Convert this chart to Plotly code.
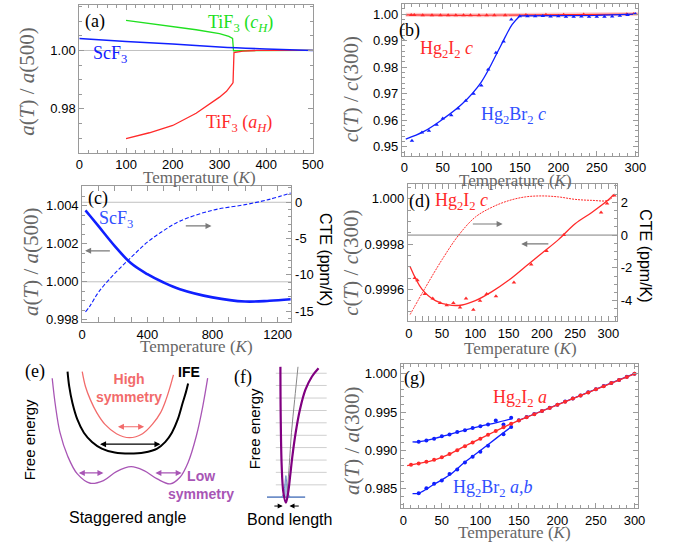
import plotly.graph_objects as go

W, H = 674, 548
def X(px): return px / W
def Y(py): return 1 - py / H

# ---------------- data ----------------
# (a) lattice parameters normalised at 500 K
a_scf3_T = [0, 100, 200, 300, 400, 500]
a_scf3 = [1.0041, 1.0031, 1.0022, 1.0012, 1.0005, 1.0000]
a_tif3_c_T = [100, 150, 200, 250, 300, 320, 328, 330, 340, 400, 500]
a_tif3_c = [1.0103, 1.0093, 1.0082, 1.0071, 1.0058, 1.0048, 1.0041, 0.9999, 0.9999, 1.0000, 1.0000]
a_tif3_a_T = [100, 150, 200, 250, 300, 315, 328, 329, 331, 350, 380, 500]
a_tif3_a = [0.9698, 0.9718, 0.9743, 0.9785, 0.9840, 0.9860, 0.9887, 0.9890, 0.9993, 0.9998, 1.0, 1.0]

# Hg2I2 c (used in b and d)
i_c_T = [9, 13, 24, 36, 47, 57, 67, 77, 86, 97, 107, 117, 131, 158, 184, 207, 233, 289, 298, 309]
i_c = [0.99965, 0.99964, 0.99958, 0.99956, 0.99954, 0.99953, 0.99954, 0.99952, 0.99956, 0.99951,
       0.99955, 0.99958, 0.99957, 0.99963, 0.99971, 0.99977, 0.99984, 0.99994, 0.99998, 1.000015]
i_c_fit_T = [2, 20, 40, 60, 80, 100, 125, 150, 175, 200, 225, 250, 275, 300, 308]
i_c_fit = [0.99970, 0.99960, 0.99955, 0.999531, 0.999531, 0.99955, 0.99959, 0.99964, 0.99970,
           0.99976, 0.99982, 0.99989, 0.99994, 0.999996, 1.00002]
i_cte_T = [2, 25, 50, 75, 100, 125, 150, 175, 200, 225, 250, 275, 300, 308]
i_cte = [-4.85, -3.2, -1.5, 0.0, 1.1, 1.7, 2.1, 2.33, 2.39, 2.33, 2.18, 2.12, 2.12, 2.4]

# Hg2Br2 c (b)
br_c_T = [10, 23, 32, 42, 50, 61, 70, 80, 90, 100, 109, 119, 129, 139, 150, 160, 170, 180, 190, 200,
          210, 220, 230, 240, 250, 260, 270, 280, 290, 300]
br_c = [0.9523, 0.9554, 0.9560, 0.9583, 0.9607, 0.9619, 0.9644, 0.9673, 0.9700, 0.9731, 0.9791,
        0.9854, 0.9897, 0.9979, 0.9992, 0.9992, 0.9992, 0.9993, 0.9991, 0.9992, 0.9990, 0.9990,
        0.9991, 0.9990, 0.9990, 0.9990, 0.9991, 0.9994, 0.9996, 1.0]
br_c_fit_lo_T = [2, 25, 50, 75, 100, 125, 140, 150]
br_c_fit_lo = [0.9529, 0.9557, 0.9604, 0.9661, 0.9744, 0.9879, 0.9960, 0.9993]
br_c_fit_hi_T = [150, 200, 250, 280, 300]
br_c_fit_hi = [0.9993, 0.9993, 0.9995, 0.9998, 1.0]

# (c) ScF3 a(T)/a(500) and CTE
c_T = [20, 50, 100, 200, 300, 400, 500, 600, 800, 1000, 1150, 1280]
c_a = [1.00376, 1.00345, 1.00293, 1.00188, 1.00097, 1.00040, 0.99996, 0.99961, 0.99918, 0.99896, 0.99900, 0.99908]
c_cte = [-15.1, -14.2, -12.4, -9.8, -7.6, -5.5, -3.9, -2.6, -1.1, -0.33, 0.4, 1.27]

# (g) a(T)/a(300)
g_T = [10, 20, 30, 40, 50, 60, 70, 80, 90, 100, 110, 120, 130, 140, 150, 160, 170, 180, 190, 200,
       210, 220, 230, 240, 250, 260, 270, 280, 290, 300]
g_i_a = [0.98815, 0.98832, 0.98852, 0.98878, 0.98912, 0.98953, 0.99003, 0.99055, 0.99105, 0.99155,
         0.99205, 0.99254, 0.99303, 0.99350, 0.99393, 0.99434, 0.99474, 0.99515, 0.99555, 0.99596,
         0.99636, 0.99677, 0.99717, 0.99757, 0.99798, 0.99838, 0.99879, 0.99919, 0.99960, 1.00000]
g_i_fit_T = [5, 20, 40, 60, 80, 100, 120, 140, 160, 200, 250, 300]
g_i_fit = [0.98802, 0.98832, 0.98876, 0.98953, 0.99058, 0.99155, 0.99254, 0.99350, 0.99434, 0.99596, 0.99798, 1.0]
g_br_up_T = [20, 30, 40, 50, 60, 70, 80, 90, 100, 110, 120, 130, 140]
g_br_up = [0.99113, 0.99130, 0.99155, 0.99185, 0.99210, 0.99240, 0.99265, 0.99295, 0.99318, 0.99338, 0.99393, 0.99340, 0.99426]
g_br_up_fit_T = [12, 20, 40, 60, 80, 100, 120, 140]
g_br_up_fit = [0.99113, 0.99113, 0.99155, 0.99212, 0.99267, 0.99319, 0.99362, 0.99413]
g_br_lo_T = [20, 30, 40, 50, 60, 70, 80, 90, 100, 110, 130, 140]
g_br_lo = [0.98444, 0.98509, 0.98566, 0.98608, 0.98695, 0.98751, 0.98845, 0.98919, 0.98983, 0.99061, 0.99212, 0.99306]
g_br_lo_fit_T = [12, 20, 40, 60, 80, 100, 120, 140]
g_br_lo_fit = [0.98437, 0.98444, 0.98560, 0.98680, 0.98850, 0.99000, 0.99155, 0.99306]
g_br_hi_T = [150, 160, 170, 180, 190, 200, 210, 220, 230, 240, 250, 260, 270, 280, 290, 300]
g_br_hi = [0.99395, 0.99436, 0.99476, 0.99517, 0.99557, 0.99598, 0.99638, 0.99679, 0.99719, 0.99759,
           0.99800, 0.99840, 0.99881, 0.99921, 0.99962, 1.00002]

# (e) schematic free-energy curves (angle, energy in arbitrary units)
e_ife_x = [65, 66.7, 70, 75, 81.7, 90, 100, 113.3, 128.3, 143.3, 156.7, 165, 171.7, 177.7, 182.7, 186, 188.3]
e_ife_y = [173, 158, 141.3, 124.7, 111.3, 102, 95.3, 91.3, 90.3, 91.3, 95.3, 102, 111.3, 124.7, 141.3, 152, 161]
e_high_x = [80, 83.3, 88.3, 95, 103.3, 115, 128.3, 141.7, 151.7, 160, 165.7, 170, 173.3]
e_high_y = [173, 158, 144.7, 131.3, 119.7, 110.3, 106.3, 110.3, 119.7, 131.3, 144.7, 158, 169.7]
e_low_x = [49.3, 52.7, 57.3, 65, 75, 88.3, 101.7, 115, 130, 143.3, 156.7, 170, 180, 188.3, 196.7, 203.3, 208.3]
e_low_y = [166.3, 138, 111.3, 88, 69.7, 60.3, 63, 72, 77, 73, 64.7, 59.7, 66.3, 81.3, 108, 138, 166.3]

# (f) schematic bond potential
f_levels = [171.3, 159, 146.3, 133.7, 121.3, 108.7, 96.3, 83.7, 71.3, 58.7]
f_morse_x = [282.7, 283, 284, 285.7, 288.3, 290.7, 292.7, 295, 298.3, 302.7, 308.3, 315, 321.7]
f_morse_y = [178, 128, 78, 51.3, 40.7, 51.3, 68, 88, 111.3, 134.7, 154.7, 168, 176.3]
f_harm_x = [289.7, 291.7, 294, 297.3, 300.7]
f_harm_y = [51.3, 78, 111.3, 144.7, 178]
f_gauss_x = [284, 286, 287.3, 288.3, 289.3, 290.7, 292.5]
f_gauss_y = [46.3, 50, 60, 68, 60, 50, 46.3]

# ---------------- colours / fonts ----------------
BLUE = "#1020ff"
RED = "#ff2a2a"
GREEN = "#20e020"
GRAY = "#9a9a9a"
SERIF = "Liberation Serif, Times New Roman, serif"
SANS = "Liberation Sans, Arial, sans-serif"

fig = go.Figure()

def tr(x, y, xa, ya, color, width=1.5, dash=None, mode="lines", marker=None, shape="linear", **kw):
    d = dict(x=x, y=y, xaxis=xa, yaxis=ya, mode=mode, showlegend=False, hoverinfo="skip")
    if "lines" in mode:
        d["line"] = dict(color=color, width=width, dash=dash, shape=shape)
    if marker:
        d["marker"] = marker
    d.update(kw)
    fig.add_trace(go.Scatter(**d))

tri = lambda c: dict(symbol="triangle-up", size=4, color=c)
dot = lambda c: dict(symbol="circle", size=4, color=c)

# (a)
tr(a_tif3_c_T, a_tif3_c, "x", "y", GREEN, 1.3)
tr(a_tif3_a_T, a_tif3_a, "x", "y", RED, 1.3)
tr(a_scf3_T, a_scf3, "x", "y", BLUE, 1.6, shape="spline")

# (b)
tr(i_c_fit_T, i_c_fit, "x2", "y2", "rgba(255,120,120,0.4)", 4)
tr(i_c_fit_T, i_c_fit, "x2", "y2", RED, 1.2)
tr(i_c_T, i_c, "x2", "y2", RED, mode="markers", marker=tri(RED))
tr(br_c_fit_lo_T, br_c_fit_lo, "x2", "y2", BLUE, 1.3, shape="spline")
tr(br_c_fit_hi_T, br_c_fit_hi, "x2", "y2", BLUE, 1.3)
tr(br_c_T, br_c, "x2", "y2", BLUE, mode="markers", marker=tri(BLUE))

# (c)
tr(c_T, c_a, "x3", "y3", BLUE, 2.6, shape="spline")
tr(c_T, c_cte, "x3", "y4", BLUE, 1.1, dash="4px,2px", shape="spline")

# (d)
tr(i_c_fit_T, i_c_fit, "x5", "y5", RED, 1.3, shape="spline")
tr(i_c_T, i_c, "x5", "y5", RED, mode="markers", marker=tri(RED))
tr(i_cte_T, i_cte, "x5", "y6", RED, 1.0, dash="2px,1px", shape="spline")

# (e)/(f) schematic
tr(e_high_x, e_high_y, "x7", "y7", "#f26b6b", 1.3, shape="spline")
tr(e_ife_x, e_ife_y, "x7", "y7", "black", 2.0, shape="spline")
tr(e_low_x, e_low_y, "x7", "y7", "#a855b5", 1.3, shape="spline")
lx, ly = [], []
for lv in f_levels:
    lx += [278, 330, None]
    ly += [lv, lv, None]
tr(lx, ly, "x7", "y7", "#cfcfcf", 1)
tr([269, 308], [46.3, 46.3], "x7", "y7", "#6f8fc8", 1.6)
tr(f_gauss_x, f_gauss_y, "x7", "y7", "#6f8fc8", 1.0, fill="toself", fillcolor="rgba(111,143,200,0.6)", shape="spline")
tr(f_harm_x, f_harm_y, "x7", "y7", "#888888", 1.0, shape="spline")
tr(f_morse_x, f_morse_y, "x7", "y7", "#800080", 2.2, shape="spline")

# (g)
tr(g_br_hi_T, g_br_hi, "x9", "y9", BLUE, 1.3)
tr(g_br_hi_T, g_br_hi, "x9", "y9", BLUE, mode="markers", marker=dot(BLUE))
tr(g_br_up_fit_T, g_br_up_fit, "x9", "y9", BLUE, 1.3, shape="spline")
tr(g_br_up_T, g_br_up, "x9", "y9", BLUE, mode="markers", marker=dot(BLUE))
tr(g_br_lo_fit_T, g_br_lo_fit, "x9", "y9", BLUE, 1.3, shape="spline")
tr(g_br_lo_T, g_br_lo, "x9", "y9", BLUE, mode="markers", marker=dot(BLUE))
tr(g_i_fit_T, g_i_fit, "x9", "y9", RED, 1.3, shape="spline")
tr(g_T, g_i_a, "x9", "y9", RED, mode="markers", marker=dot(RED))

# ---------------- axes ----------------
def ax(domain, rng, tickvals=None, ticktext=None, minor=None, mirror="allticks", anchor=None, **kw):
    d = dict(domain=domain, range=rng, showline=True, linecolor=GRAY, linewidth=1, mirror=mirror,
             ticks="inside", ticklen=5, tickcolor=GRAY, showgrid=False, zeroline=False,
             tickfont=dict(family=SANS, size=13, color="black"), fixedrange=True)
    if tickvals is not None:
        d["tickvals"] = tickvals
    if ticktext is not None:
        d["ticktext"] = ticktext
    if minor is not None:
        d["minor"] = dict(dtick=minor, ticks="inside", ticklen=3, tickcolor=GRAY, showgrid=False)
    if anchor:
        d["anchor"] = anchor
    d.update(kw)
    return d

hidden = dict(visible=False, fixedrange=True)

fig.update_layout(
    width=W, height=H, margin=dict(l=0, r=0, t=0, b=0),
    paper_bgcolor="white", plot_bgcolor="white", showlegend=False,
    # (a)
    xaxis=ax([X(77), X(316)], [0, 500], [0, 100, 200, 300, 400, 500], minor=20, anchor="y"),
    yaxis=ax([Y(154), Y(5)], [0.965, 1.0156], [0.98, 1.00], ["0.98", "1.00"], minor=0.005, anchor="x"),
    # (b)
    xaxis2=ax([X(407), X(648)], [-3, 303], [0, 50, 100, 150, 200, 250, 300], minor=10, anchor="y2"),
    yaxis2=ax([Y(157), Y(4)], [0.9467, 1.0038], [0.95, 0.96, 0.97, 0.98, 0.99, 1.00],
              ["0.95", "0.96", "0.97", "0.98", "0.99", "1.00"], minor=0.002, anchor="x2"),
    # (c)
    xaxis3=ax([X(80), X(294)], [0, 1285], [0, 400, 800, 1200], minor=100, anchor="y3"),
    yaxis3=ax([Y(325), Y(188)], [0.99788, 1.00503], [0.998, 1.000, 1.002, 1.004],
              ["0.998", "1.000", "1.002", "1.004"], minor=0.0005, mirror=True, anchor="x3"),
    yaxis4=ax([Y(325), Y(188)], [-16.5, 2.2], [0, -5, -10, -15], ["0", "-5", "-10", "-15"], minor=1,
              mirror=False, anchor="x3", overlaying="y3", side="right"),
    # (d)
    xaxis5=ax([X(413), X(627)], [-1.5, 313], [0, 50, 100, 150, 200, 250, 300], minor=10, anchor="y5"),
    yaxis5=ax([Y(324), Y(186)], [0.99946, 1.0000646], [0.9996, 0.9998, 1.0], ["0.9996", "0.9998", "1.000"],
              minor=0.00005, mirror=True, anchor="x5"),
    yaxis6=ax([Y(324), Y(186)], [-5.25, 3.1], [2, 0, -2, -4], ["2", "0", "-2", "-4"], minor=0.5,
              mirror=False, anchor="x5", overlaying="y5", side="right"),
    # (e)/(f)
    xaxis7=dict(domain=[0, X(340)], range=[0, 340], anchor="y7", **hidden),
    yaxis7=dict(domain=[0, Y(370)], range=[0, 178], anchor="x7", **hidden),
    # (g)
    xaxis9=ax([X(406), X(648)], [-3, 304], [0, 50, 100, 150, 200, 250, 300], minor=10, anchor="y9"),
    yaxis9=ax([Y(513), Y(367)], [0.98246, 1.00133], [0.985, 0.990, 0.995, 1.000],
              ["0.985", "0.990", "0.995", "1.000"], minor=0.001, anchor="x9"),
)

# reference lines
shapes = [
    dict(type="line", xref="x domain", yref="y", x0=0, x1=1, y0=1.0, y1=1.0, line=dict(color="#c0c0c0", width=1), layer="below"),
    dict(type="line", xref="x3 domain", yref="y3", x0=0, x1=1, y0=1.0, y1=1.0, line=dict(color="#c0c0c0", width=1), layer="below"),
    dict(type="line", xref="x3 domain", yref="y4", x0=0, x1=1, y0=0, y1=0, line=dict(color="#c0c0c0", width=1), layer="below"),
    dict(type="line", xref="x5 domain", yref="y6", x0=0, x1=1, y0=0, y1=0, line=dict(color="#808080", width=1), layer="below"),
]
fig.update_layout(shapes=shapes)

ann = []
def txt(text, px, py, size=18, color="black", family=SERIF, angle=0):
    ann.append(dict(text=text, x=X(px), y=Y(py), xref="paper", yref="paper", showarrow=False,
                    font=dict(family=family, size=size, color=color), textangle=angle,
                    xanchor="center", yanchor="middle"))

TT = "Temperature (<i>K</i>)"
TG = "#666666"
# axis titles
for (px, py) in [(200, 179), (523, 182), (197, 350), (528, 352), (522, 537)]:
    txt(TT, px, py, 17, TG)
txt("<i>a</i>(<i>T</i>) / <i>a</i>(500)", 24, 82, 21, TG, angle=-90)
txt("<i>c</i>(<i>T</i>) / <i>c</i>(300)", 355, 90, 21, TG, angle=-90)
txt("<i>a</i>(<i>T</i>) / <i>a</i>(500)", 27, 264, 21, TG, angle=-90)
txt("<i>c</i>(<i>T</i>) / <i>c</i>(300)", 354, 265, 21, TG, angle=-90)
txt("<i>a</i>(<i>T</i>) / <i>a</i>(300)", 356, 445, 21, TG, angle=-90)
txt("CTE (ppm/K)", 329, 262, 16, "black", SANS, angle=90)
txt("CTE (ppm/K)", 656, 258, 16, "black", SANS, angle=90)

# panel labels
txt("(a)", 93, 22)
txt("TiF<sub>3</sub> (<i>c<sub>H</sub></i>)", 242, 24, 18, GREEN)
txt("ScF<sub>3</sub>", 108, 55, 18, BLUE)
txt("TiF<sub>3</sub> (<i>a<sub>H</sub></i>)", 240, 125, 18, RED)
txt("(b)", 415, 31)
txt("Hg<sub>2</sub>I<sub>2</sub> <i>c</i>", 453, 50, 18, RED)
txt("Hg<sub>2</sub>Br<sub>2</sub> <i>c</i>", 521, 117, 18, "#3050ff")
txt("(c)", 96, 200)
txt("ScF<sub>3</sub>", 115, 222, 18, "#3050ff")
txt("(d)", 425, 203)
txt("Hg<sub>2</sub>I<sub>2</sub> <i>c</i>", 468, 203, 18, RED)
txt("(g)", 420, 382)
txt("Hg<sub>2</sub>I<sub>2</sub> <i>a</i>", 528, 402, 18, RED)
txt("Hg<sub>2</sub>Br<sub>2</sub> <i>a,b</i>", 500, 493, 18, "#3050ff")

# schematic labels
txt("(e)", 32, 375, 18)
txt("<b>High<br>symmetry</b>", 128, 392, 14, "#f26b6b", SANS)
txt("<b>IFE</b>", 189, 375, 14, "black", SANS)
txt("Free energy", 27, 444, 15, "black", SANS, angle=-90)
txt("<b>Low<br>symmetry</b>", 201, 489, 14, "#a855b5", SANS)
txt("Staggered angle", 127, 522, 16, "black", SANS)
txt("(f)", 244, 381, 18)
txt("Free energy", 256, 433, 15, "black", SANS, angle=-90)
txt("Bond length", 292, 524, 16, "black", SANS)

# arrows
def arrow(xa, ya, x, y, axv, ayv, color, side="end", width=1.2):
    ann.append(dict(x=x, y=y, ax=axv, ay=ayv, xref=xa, yref=ya, axref=xa, ayref=ya, text="",
                    showarrow=True, arrowhead=2, arrowsize=1, arrowwidth=width, arrowcolor=color,
                    arrowside=side))

arrow("x3", "y3", 18, 1.00163, 179, 1.00163, "#7a7a7a")
arrow("x3", "y3", 794, 1.00294, 627, 1.00294, "#7a7a7a")
arrow("x5", "y5", 141, 0.999889, 94, 0.999889, "#7a7a7a")
arrow("x5", "y5", 169, 0.999801, 212, 0.999801, "#7a7a7a")
arrow("x7", "y7", 143.3, 117.3, 115, 117.3, "#f26b6b", "end+start")
arrow("x7", "y7", 160, 99.7, 96.7, 99.7, "black", "end+start")
arrow("x7", "y7", 101.7, 70.7, 75, 70.7, "#a855b5", "end+start")
arrow("x7", "y7", 181.7, 70.7, 153.3, 70.7, "#a855b5", "end+start")
arrow("x7", "y7", 285, 37.3, 275, 37.3, "black", width=1)
arrow("x7", "y7", 292, 37.3, 303, 37.3, "black", width=1)

fig.update_layout(annotations=ann)
fig.write_html("out.html")
